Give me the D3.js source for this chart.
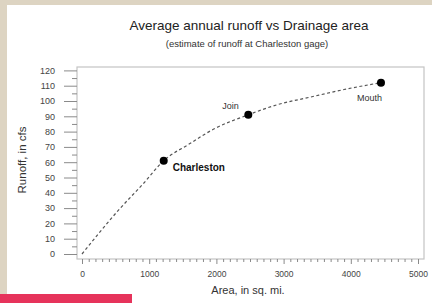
<!DOCTYPE html>
<html>
<head>
<meta charset="utf-8">
<script src="https://cdn.jsdelivr.net/npm/d3@7"></script>
<style>
  body { margin: 0; background: #fff; }
  svg { display: block; font-family: "Liberation Sans", Arial, sans-serif; }
</style>
</head>
<body>
<div id="chart"></div>
<script>
(function () {

  // curve (area in sq. mi., runoff in cfs)
  var curveArea   = [0, 540, 912, 1216, 1600, 1954, 2475, 2900, 3393, 3900, 4449]
  var curveRunoff = [0, 28.5, 46, 61, 72, 81.5, 91, 97.5, 102.5, 107.5, 112]

  var siteNames  = ['Charleston', 'Join', 'Mouth']
  var siteArea   = [1216, 2475, 4449]
  var siteRunoff = [61, 91, 112]

  var xTicks = [0, 1000, 2000, 3000, 4000, 5000]
  var yTicks = [0, 10, 20, 30, 40, 50, 60, 70, 80, 90, 100, 110, 120]

  var width = 432, height = 303

  var svg = d3.select('#chart').append('svg')
    .attr('width', width)
    .attr('height', height)

  // page frame
  svg.append('rect').attr('x', 0).attr('y', 0).attr('width', width).attr('height', 5).attr('fill', '#ddd4c2')
  svg.append('rect').attr('x', 0).attr('y', 0).attr('width', 7).attr('height', 294).attr('fill', '#ddd4c2')
  svg.append('rect').attr('x', 0).attr('y', 294).attr('width', 132).attr('height', 9).attr('fill', '#e6335b')

  var xPositionScale = d3.scaleLinear().domain([0, 5000]).range([82, 418])
  var yPositionScale = d3.scaleLinear().domain([0, 120]).range([254, 70.4])

  var box = { left: 77, right: 424, top: 67, bottom: 259 }

  svg.append('rect')
    .attr('x', box.left).attr('y', box.top)
    .attr('width', box.right - box.left).attr('height', box.bottom - box.top)
    .attr('fill', 'none').attr('stroke', '#c4c4c4').attr('stroke-width', 1.2)

  // minor ticks
  var yMinor = d3.axisLeft(yPositionScale).tickValues(d3.range(5, 120, 10)).tickSize(5).tickFormat('')
  svg.append('g').attr('class', 'axis').attr('transform', 'translate(' + box.left + ',0)').call(yMinor)

  var xMinor = d3.axisBottom(xPositionScale).tickValues(d3.range(100, 5000, 100).filter(function (d) { return d % 1000 }))
    .tickSize(3).tickFormat('')
  svg.append('g').attr('class', 'axis').attr('transform', 'translate(0,' + box.bottom + ')').call(xMinor)

  var yAxis = d3.axisLeft(yPositionScale).tickValues(yTicks).tickSize(13).tickPadding(9)
  svg.append('g').attr('class', 'axis y-axis').attr('transform', 'translate(' + box.left + ',0)').call(yAxis)

  var xAxis = d3.axisBottom(xPositionScale).tickValues(xTicks).tickSize(5).tickPadding(7)
    .tickFormat(d3.format('d'))
  svg.append('g').attr('class', 'axis x-axis').attr('transform', 'translate(0,' + box.bottom + ')').call(xAxis)

  svg.selectAll('.axis .domain').remove()
  svg.selectAll('.axis line').attr('stroke', '#8a8a8a')
  svg.selectAll('.axis text').attr('fill', '#444').attr('font-family', '"Liberation Sans", Arial, sans-serif')
  svg.selectAll('.y-axis text').attr('font-size', 9)
  svg.selectAll('.x-axis text').attr('font-size', 8.5)

  // dashed curve
  var line = d3.line()
    .x(function (d) { return xPositionScale(d[0]) })
    .y(function (d) { return yPositionScale(d[1]) })
    .curve(d3.curveMonotoneX)

  svg.append('path')
    .datum(d3.zip(curveArea, curveRunoff))
    .attr('d', line)
    .attr('fill', 'none')
    .attr('stroke', '#555')
    .attr('stroke-width', 1.2)
    .attr('stroke-dasharray', '3,2.5')

  svg.selectAll('.site')
    .data(siteNames)
    .enter().append('circle')
    .attr('class', 'site')
    .attr('cx', function (d, i) { return xPositionScale(siteArea[i]) })
    .attr('cy', function (d, i) { return yPositionScale(siteRunoff[i]) })
    .attr('r', 4)
    .attr('fill', '#000')

  // site labels
  var labelOffset = [[9, 10], [-26, -6], [-24, 18]]
  svg.selectAll('.site-label')
    .data(siteNames)
    .enter().append('text')
    .attr('class', 'site-label')
    .attr('x', function (d, i) { return xPositionScale(siteArea[i]) + labelOffset[i][0] })
    .attr('y', function (d, i) { return yPositionScale(siteRunoff[i]) + labelOffset[i][1] })
    .attr('font-size', function (d, i) { return i === 0 ? 10 : 9 })
    .attr('font-weight', function (d, i) { return i === 0 ? 'bold' : 'normal' })
    .attr('fill', function (d, i) { return i === 0 ? '#111' : '#333' })
    .text(function (d) { return d })

  // titles
  svg.append('text')
    .attr('x', 249).attr('y', 30)
    .attr('text-anchor', 'middle')
    .attr('font-size', 13.5)
    .attr('fill', '#222')
    .text('Average annual runoff vs Drainage area')

  svg.append('text')
    .attr('x', 247).attr('y', 47)
    .attr('text-anchor', 'middle')
    .attr('font-size', 9.5)
    .attr('fill', '#333')
    .text('(estimate of runoff at Charleston gage)')

  svg.append('text')
    .attr('x', 248).attr('y', 294)
    .attr('text-anchor', 'middle')
    .attr('font-size', 11)
    .attr('fill', '#333')
    .text('Area, in sq. mi.')

  svg.append('text')
    .attr('transform', 'translate(26,160) rotate(-90)')
    .attr('text-anchor', 'middle')
    .attr('font-size', 11.5)
    .attr('fill', '#333')
    .text('Runoff, in cfs')

})()
</script>
</body>
</html>
